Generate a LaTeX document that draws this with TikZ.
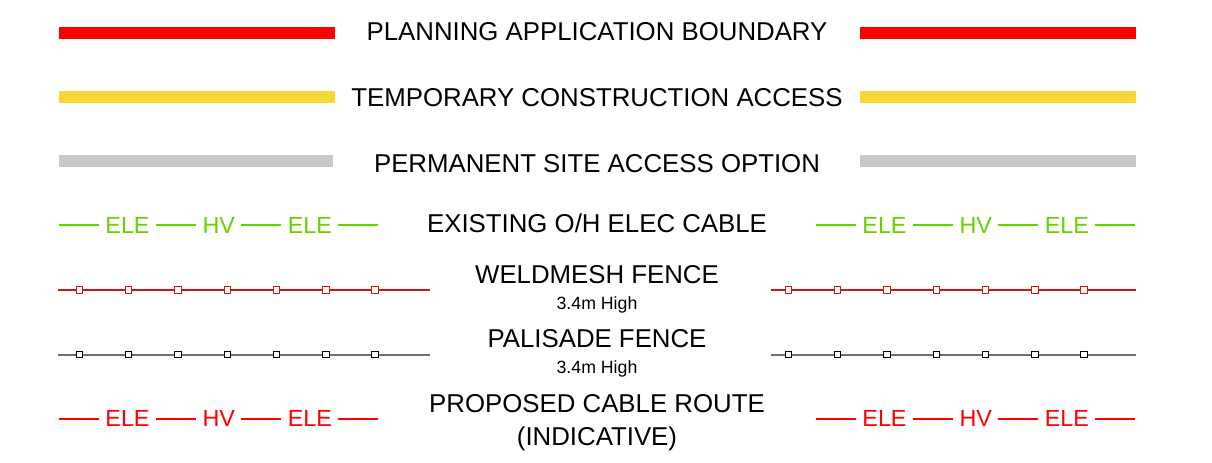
\documentclass[tikz,border=0pt]{standalone}
\usepackage{fontspec}
\setmainfont{Liberation Sans}
\usetikzlibrary{positioning}
\definecolor{boundaryred}{RGB}{255,0,0}
\definecolor{accessyellow}{RGB}{247,214,53}
\definecolor{siteaccessgrey}{RGB}{200,200,200}
\definecolor{ohgreen}{RGB}{102,210,0}
\definecolor{cablered}{RGB}{255,0,0}
\definecolor{meshred}{RGB}{210,20,20}
\definecolor{palisadegrey}{RGB}{110,110,110}
\tikzset{
    legend/.style={font=\fontsize{18.35pt}{22pt}\selectfont, inner sep=0pt, anchor=base},
    subnote/.style={font=\fontsize{12.6pt}{15pt}\selectfont, inner sep=0pt},
    band/.style={line width=8.5pt},
    cabletag/.style={font=\fontsize{16.6pt}{20pt}\selectfont, inner xsep=4.4pt, inner ysep=0pt, anchor=base},
    cable/.style={line width=1.4pt},
    post/.style={rectangle, draw, fill=white, line width=0.7pt, minimum size=0.16cm, inner sep=0pt},
}

\begin{document}
\begin{tikzpicture}[x=0.025cm, y=-0.025cm, node distance=0.31cm]
    \useasboundingbox (0,0) rectangle (1212,462);

    % Labels
    \node[legend] (pab) at (597,40.5) {PLANNING APPLICATION BOUNDARY};
    \node[legend] (tca) at (597,106.5) {TEMPORARY CONSTRUCTION ACCESS};
    \node[legend] (psa) at (597,172.7) {PERMANENT SITE ACCESS OPTION};
    \node[legend] (ohe) at (597,232.7) {EXISTING O/H ELEC CABLE};
    \node[legend] (weld) at (597,283.3) {WELDMESH FENCE};
    \node[subnote, below=of weld] (weldhigh) {3.4m High};
    \node[legend] (pal) at (597,347.3) {PALISADE FENCE};
    \node[subnote, below=of pal] (palhigh) {3.4m High};
    \node[legend] (pcr) at (597,412.7) {PROPOSED CABLE ROUTE};
    \node[legend, below=0.34cm of pcr] (indic) {(INDICATIVE)};

    % Bands
    \draw[band, boundaryred] (59,32.8) -- (335,32.8) (860,32.8) -- (1136,32.8);
    \draw[band, accessyellow] (59,97.2) -- (335,97.2) (860,97.2) -- (1136,97.2);
    \draw[band, siteaccessgrey] (59,161.4) -- (333,161.4) (860,161.4) -- (1136,161.4);

    % Cables
    \foreach \row/\col/\yy in {ohe/ohgreen/233.3, pcr/cablered/426.7} {
        \foreach \side/\xx in {l/127.5, r/884.5} {
            \node[cabletag, text=\col] (\row\side1) at (\xx,\yy) {ELE};
            \node[cabletag, text=\col, right=1cm of \row\side1] (\row\side2) {HV};
            \node[cabletag, text=\col, right=1cm of \row\side2] (\row\side3) {ELE};
            \draw[cable, \col] (\row\side1.west) -- ++(-1cm,0)
                (\row\side1.east) -- (\row\side2.west)
                (\row\side2.east) -- (\row\side3.west)
                (\row\side3.east) -- ++(1cm,0);
        }
    }

    % Fences
    \foreach \row/\col/\pc/\yy/\lw in {weld/meshred/meshred/290/0.8pt, pal/palisadegrey/black/354.7/1.2pt} {
        \draw[\col, line width=\lw] (58,\yy) -- (430,\yy) (771,\yy) -- (1136,\yy);
        \foreach \i in {0,...,6} {
            \node[post, draw=\pc] (\row l\i) at (79.3+49.3*\i,\yy) {};
            \node[post, draw=\pc] (\row r\i) at (788.3+49.3*\i,\yy) {};
        }
    }

\end{tikzpicture}
\end{document}
